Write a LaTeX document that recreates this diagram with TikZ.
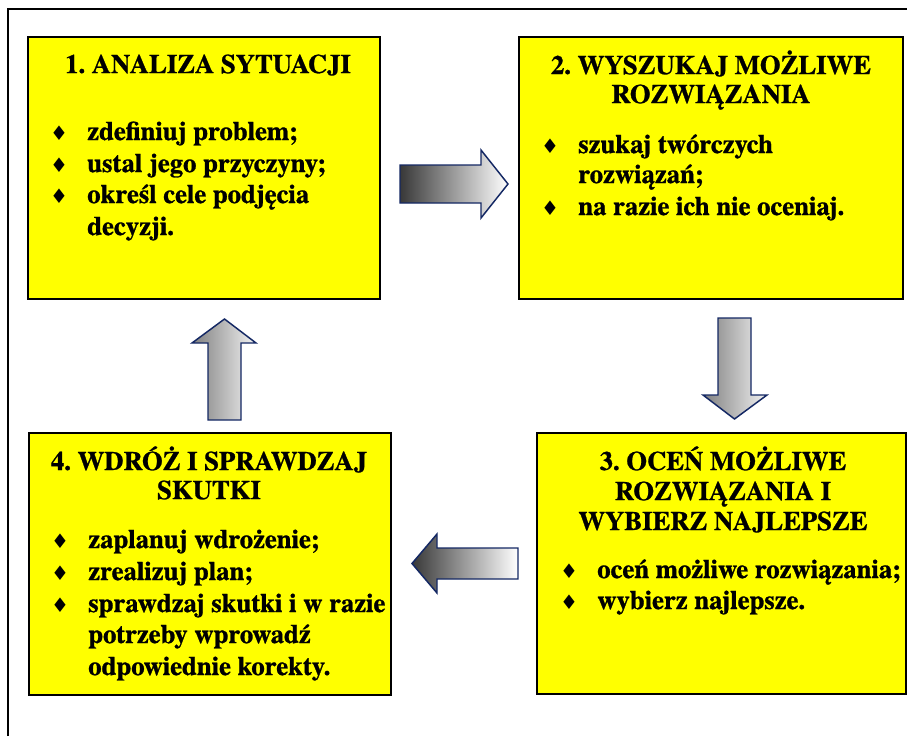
\documentclass[tikz,border=0pt]{standalone}
\usepackage{fontspec}
\setmainfont{TeX Gyre Termes}[BoldFeatures={FakeBold=1.0}]
\newfontfamily\symfont{DejaVu Serif}
\definecolor{arrowblue}{RGB}{20,40,100}
\definecolor{boxyellow}{RGB}{255,255,0}
\frenchspacing
\begin{document}
\begin{tikzpicture}[x=0.75pt,y=-0.75pt,
  box/.style={draw=black, fill=boxyellow, line width=1.3pt, inner sep=0pt, outer sep=0pt},
  txt/.style={font=\bfseries\fontsize{20.0}{24}\selectfont, inner sep=0pt, anchor=base},
  itm/.style={txt, anchor=base west},
  bul/.style={font=\symfont\fontsize{15}{18}\selectfont, inner sep=0pt, anchor=base},
  harrow/.style={draw=arrowblue, line width=1.1pt, line join=miter, left color=black!78, right color=white},
  varrow/.style={draw=arrowblue, line width=1.1pt, line join=miter, left color=black!50, right color=white!95!black}]
\useasboundingbox (0,0) rectangle (907,736);
\fill[white] (0,0) rectangle (907,736);
\draw[line width=1.5pt] (8,736) -- (8,9) -- (907,9);

% boxes
\node[box, minimum width=264pt, minimum height=196.5pt] (b1) at (204,168) {};
\node[box, minimum width=288pt, minimum height=196.5pt] (b2) at (711,168) {};
\node[box, minimum width=276.75pt, minimum height=195.75pt] (b3) at (721.5,563.5) {};
\node[box, minimum width=271.5pt, minimum height=196.5pt] (b4) at (210,564) {};

% box 1
\node[txt] (t1) at (208,73) {1. ANALIZA SYTUACJI};
\node[bul] (p1a) at (59,140) {♦};
\node[itm] (i1a) at (87,140) {zdefiniuj problem;};
\node[bul] (p1b) at (59,172) {♦};
\node[itm] (i1b) at (87,172) {ustal jego przyczyny;};
\node[bul] (p1c) at (59,203) {♦};
\node[itm] (i1c) at (87,203) {określ cele podjęcia};
\node[itm] (i1d) at (87,235) {decyzji.};

% box 2
\node[txt] (t2a) at (711,74) {2. WYSZUKAJ MOŻLIWE};
\node[txt] (t2b) at (711,103) {ROZWIĄZANIA};
\node[bul] (p2a) at (550,153) {♦};
\node[itm] (i2a) at (578,153) {szukaj twórczych};
\node[itm] (i2b) at (578,183) {rozwiązań;};
\node[bul] (p2c) at (550,215) {♦};
\node[itm] (i2c) at (578,215) {na razie ich nie oceniaj.};

% box 3
\node[txt] (t3a) at (723,470) {3. OCEŃ MOŻLIWE};
\node[txt] (t3b) at (723,500) {ROZWIĄZANIA I};
\node[txt] (t3c) at (723,530) {WYBIERZ NAJLEPSZE};
\node[bul] (p3a) at (569,578) {♦};
\node[itm] (i3a) at (597,578) {oceń możliwe rozwiązania;};
\node[bul] (p3b) at (569,609) {♦};
\node[itm] (i3b) at (597,609) {wybierz najlepsze.};

% box 4
\node[txt] (t4a) at (209,470) {4. WDRÓŻ I SPRAWDZAJ};
\node[txt] (t4b) at (209,499) {SKUTKI};
\node[bul] (p4a) at (60,548) {♦};
\node[itm] (i4a) at (88,548) {zaplanuj wdrożenie;};
\node[bul] (p4b) at (60,580) {♦};
\node[itm] (i4b) at (88,580) {zrealizuj plan;};
\node[bul] (p4c) at (60,612) {♦};
\node[itm] (i4c) at (88,612) {sprawdzaj skutki i w razie};
\node[itm] (i4d) at (88,643) {potrzeby wprowadź};
\node[itm] (i4e) at (88,675) {odpowiednie korekty.};

% block arrows
\path[harrow] (400,165) -- (481,165) -- (481,150) -- (508,184) -- (481,218) -- (481,203) -- (400,203) -- cycle;
\path[varrow] (718,318) -- (751,318) -- (751,395) -- (767,395) -- (734.5,419) -- (703,395) -- (718,395) -- cycle;
\path[harrow] (518,548) -- (437,548) -- (437,534) -- (412,563.5) -- (437,593) -- (437,579) -- (518,579) -- cycle;
\path[varrow] (208,420) -- (241,420) -- (241,343) -- (256,343) -- (224.5,319) -- (192,343) -- (208,343) -- cycle;
\end{tikzpicture}
\end{document}
